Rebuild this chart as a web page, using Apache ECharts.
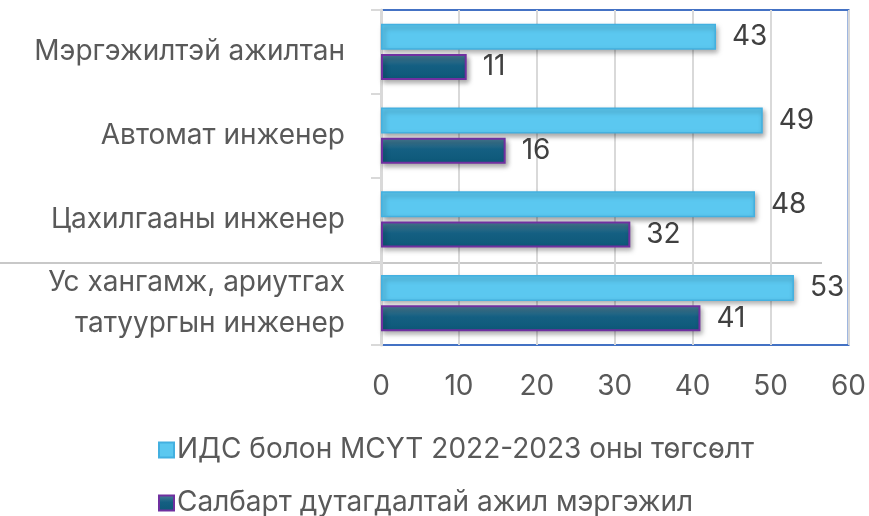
<!DOCTYPE html>
<html>
<head>
<meta charset="utf-8">
<script src="https://cdn.jsdelivr.net/npm/echarts@6/dist/echarts.min.js"></script>
<style>
  html, body { margin: 0; padding: 0; background: #fff; }
  #chart { width: 869px; height: 516px; }
</style>
</head>
<body>
<div id="chart"></div>
<script>
// ангилал (дээрээс доош)
const categories = [
  'Мэргэжилтэй ажилтан',
  'Автомат инженер',
  'Цахилгааны инженер',
  'Ус хангамж, ариутгах\nтатуургын инженер'
];
const seriesNames = [
  'ИДС болон МСҮТ 2022-2023 оны төгсөлт',
  'Салбарт дутагдалтай ажил мэргэжил'
];
const graduates = [43, 49, 48, 53];
const shortage = [11, 16, 32, 41];
const xTicks = [0, 10, 20, 30, 40, 50, 60];

const font = 'Inter, "Noto Sans", sans-serif';
const chart = echarts.init(document.getElementById('chart'));

const shadow = {
  shadowColor: 'rgba(0,0,0,0.35)',
  shadowBlur: 5,
  shadowOffsetX: 2,
  shadowOffsetY: 3
};

// legend нэг мөрөнд нэг зүйл
const legendRow = (name, top) => ({
  left: 153,
  top: top,
  itemWidth: 15,
  itemHeight: 15,
  icon: 'rect',
  textStyle: { fontSize: 28, color: '#595959', fontFamily: font, padding: [0, 0, 0, -2] },
  data: [name]
});

chart.setOption({
  animation: false,
  textStyle: { fontFamily: font },
  grid: { left: 381, right: 19, top: 10, bottom: 171, show: true,
    borderColor: '#4472c4', borderWidth: 2, backgroundColor: 'transparent' },
  legend: [legendRow(seriesNames[0], 431), legendRow(seriesNames[1], 484)],
  xAxis: {
    type: 'value',
    min: xTicks[0],
    max: xTicks[xTicks.length - 1],
    interval: 10,
    axisLine: { show: false },
    axisTick: { show: false },
    splitLine: { lineStyle: { color: '#d9d9d9', width: 2 } },
    axisLabel: { fontSize: 28, color: '#595959', margin: 28 }
  },
  yAxis: {
    type: 'category',
    inverse: true,
    data: categories,
    axisLine: { show: true, lineStyle: { color: '#d9d9d9', width: 3 } },
    axisTick: { show: true, length: 10, lineStyle: { color: '#d9d9d9', width: 2 } },
    axisLabel: { fontSize: 28, color: '#595959', margin: 36, lineHeight: 41, align: 'right' }
  },
  series: [
    {
      name: seriesNames[0],
      type: 'bar',
      data: graduates,
      barWidth: 26,
      barGap: '16%',
      itemStyle: Object.assign({ color: '#5bc8f0', borderColor: '#43b0e0', borderWidth: 1.5 }, shadow),
      label: { show: true, position: 'right', distance: 16, fontSize: 28, color: '#404040' }
    },
    {
      name: seriesNames[1],
      type: 'bar',
      data: shortage,
      barWidth: 26,
      itemStyle: Object.assign({
        color: new echarts.graphic.LinearGradient(0, 0, 0, 1, [
          { offset: 0, color: '#4f8198' },
          { offset: 0.45, color: '#145f82' },
          { offset: 1, color: '#0d5878' }
        ]),
        borderColor: '#7030a0',
        borderWidth: 2
      }, shadow),
      label: { show: true, position: 'right', distance: 16, fontSize: 28, color: '#404040' }
    }
  ],
  graphic: [
    {
      type: 'line',
      shape: { x1: 0, y1: 263, x2: 822, y2: 263 },
      style: { stroke: '#c8c8c8', lineWidth: 2 },
      z: 0
    }
  ]
});
</script>
</body>
</html>
